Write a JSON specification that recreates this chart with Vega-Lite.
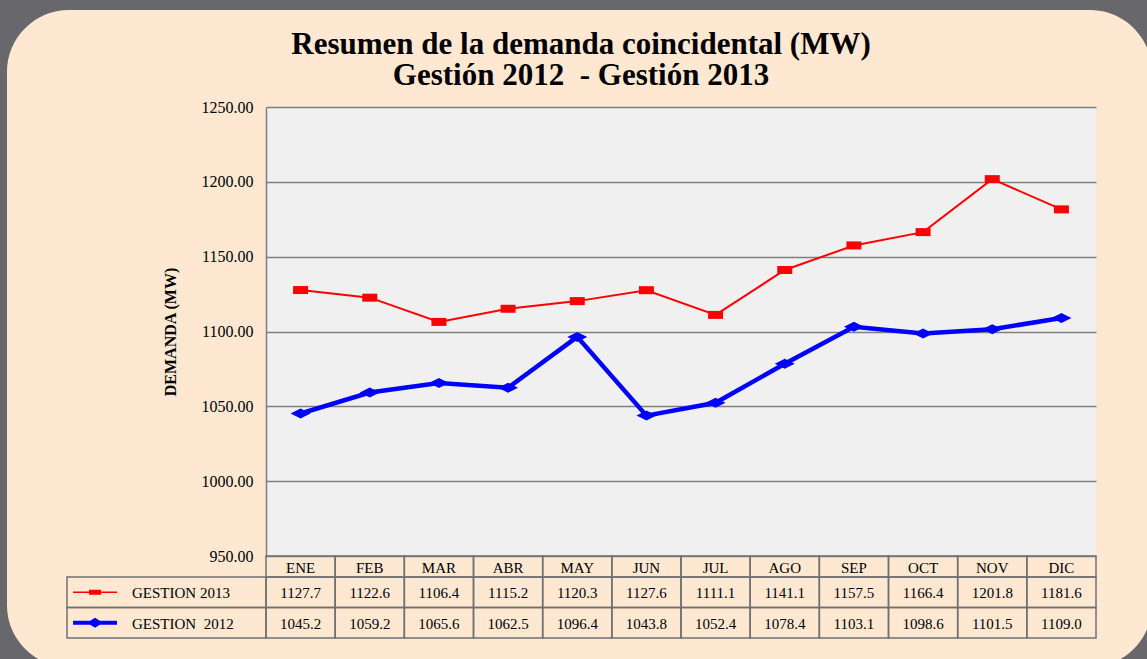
{
  "$schema": "https://vega.github.io/schema/vega-lite/v6.json",
  "width": 830,
  "height": 449,
  "autosize": {"type": "none"},
  "padding": {"left": 266, "top": 107, "right": 51, "bottom": 103},
  "background": "#FEE8D2",
  "title": {
    "text": ["Resumen de la demanda coincidental (MW)", "Gestión 2012\u00a0 - Gestión 2013"],
    "font": "Liberation Serif",
    "fontSize": 31,
    "fontWeight": "bold",
    "color": "#000000",
    "anchor": "middle",
    "frame": "group",
    "baseline": "top",
    "dx": -100,
    "dy": 92,
    "lineHeight": 31,
    "offset": 0
  },
  "config": {
    "view": {"fill": "#F0F0F0", "stroke": null},
    "font": "Liberation Serif"
  },
  "datasets": {
    "demanda": [
      {"mes": "ENE", "anio": 2013, "serie": "GESTION 2013", "valor": 1127.7},
      {"mes": "FEB", "anio": 2013, "serie": "GESTION 2013", "valor": 1122.6},
      {"mes": "MAR", "anio": 2013, "serie": "GESTION 2013", "valor": 1106.4},
      {"mes": "ABR", "anio": 2013, "serie": "GESTION 2013", "valor": 1115.2},
      {"mes": "MAY", "anio": 2013, "serie": "GESTION 2013", "valor": 1120.3},
      {"mes": "JUN", "anio": 2013, "serie": "GESTION 2013", "valor": 1127.6},
      {"mes": "JUL", "anio": 2013, "serie": "GESTION 2013", "valor": 1111.1},
      {"mes": "AGO", "anio": 2013, "serie": "GESTION 2013", "valor": 1141.1},
      {"mes": "SEP", "anio": 2013, "serie": "GESTION 2013", "valor": 1157.5},
      {"mes": "OCT", "anio": 2013, "serie": "GESTION 2013", "valor": 1166.4},
      {"mes": "NOV", "anio": 2013, "serie": "GESTION 2013", "valor": 1201.8},
      {"mes": "DIC", "anio": 2013, "serie": "GESTION 2013", "valor": 1181.6},
      {"mes": "ENE", "anio": 2012, "serie": "GESTION\u00a0 2012", "valor": 1045.2},
      {"mes": "FEB", "anio": 2012, "serie": "GESTION\u00a0 2012", "valor": 1059.2},
      {"mes": "MAR", "anio": 2012, "serie": "GESTION\u00a0 2012", "valor": 1065.6},
      {"mes": "ABR", "anio": 2012, "serie": "GESTION\u00a0 2012", "valor": 1062.5},
      {"mes": "MAY", "anio": 2012, "serie": "GESTION\u00a0 2012", "valor": 1096.4},
      {"mes": "JUN", "anio": 2012, "serie": "GESTION\u00a0 2012", "valor": 1043.8},
      {"mes": "JUL", "anio": 2012, "serie": "GESTION\u00a0 2012", "valor": 1052.4},
      {"mes": "AGO", "anio": 2012, "serie": "GESTION\u00a0 2012", "valor": 1078.4},
      {"mes": "SEP", "anio": 2012, "serie": "GESTION\u00a0 2012", "valor": 1103.1},
      {"mes": "OCT", "anio": 2012, "serie": "GESTION\u00a0 2012", "valor": 1098.6},
      {"mes": "NOV", "anio": 2012, "serie": "GESTION\u00a0 2012", "valor": 1101.5},
      {"mes": "DIC", "anio": 2012, "serie": "GESTION\u00a0 2012", "valor": 1109.0}
    ]
  },
  "data": {"name": "demanda"},
  "resolve": {"scale": {"x": "independent", "y": "independent", "color": "independent", "shape": "independent"}},
  "layer": [
    {
      "transform": [{"filter": "datum.anio === 2013"}],
      "mark": {"type": "line", "color": "#FF0000", "strokeWidth": 2},
      "encoding": {
        "x": {"field": "mes", "type": "ordinal", "sort": null, "scale": {"type": "point", "domain": ["ENE","FEB","MAR","ABR","MAY","JUN","JUL","AGO","SEP","OCT","NOV","DIC"], "range": [0, 830], "padding": 0.5}, "axis": null},
        "y": {"field": "valor", "type": "quantitative", "scale": {"domain": [950, 1250], "range": [449, 0], "nice": false, "zero": false},
          "axis": {"values": [950, 1000, 1050, 1100, 1150, 1200, 1250], "format": ".2f", "ticks": false, "labelPadding": 13, "labelFont": "Liberation Serif", "labelFontSize": 16, "labelColor": "#000000", "domainColor": "#7F7F7F", "domainWidth": 1.5, "gridColor": "#7F7F7F", "gridWidth": 1.5, "title": "DEMANDA (MW)", "titleFont": "Liberation Serif", "titleFontSize": 16, "titleFontWeight": "bold", "titleColor": "#000000", "titlePadding": 23}}
      }
    },
    {
      "transform": [{"filter": "datum.anio === 2012"}],
      "mark": {"type": "line", "color": "#0000FF", "strokeWidth": 4.5},
      "encoding": {
        "x": {"field": "mes", "type": "ordinal", "sort": null, "scale": {"type": "point", "domain": ["ENE","FEB","MAR","ABR","MAY","JUN","JUL","AGO","SEP","OCT","NOV","DIC"], "range": [0, 830], "padding": 0.5}, "axis": null},
        "y": {"field": "valor", "type": "quantitative", "scale": {"domain": [950, 1250], "range": [449, 0], "nice": false, "zero": false}, "axis": null}
      }
    },
    {
      "transform": [{"filter": "datum.anio === 2013"}],
      "mark": {"type": "point", "shape": "M-7.5,-4H7.5V4H-7.5Z", "size": 4, "filled": true, "color": "#FF0000", "opacity": 1, "strokeWidth": 0},
      "encoding": {
        "x": {"field": "mes", "type": "ordinal", "sort": null, "scale": {"type": "point", "domain": ["ENE","FEB","MAR","ABR","MAY","JUN","JUL","AGO","SEP","OCT","NOV","DIC"], "range": [0, 830], "padding": 0.5}, "axis": null},
        "y": {"field": "valor", "type": "quantitative", "scale": {"domain": [950, 1250], "range": [449, 0], "nice": false, "zero": false}, "axis": null}
      }
    },
    {
      "transform": [{"filter": "datum.anio === 2012"}],
      "mark": {"type": "point", "shape": "M-10,0L0,-5L10,0L0,5Z", "size": 4, "filled": true, "color": "#0000FF", "opacity": 1, "strokeWidth": 0},
      "encoding": {
        "x": {"field": "mes", "type": "ordinal", "sort": null, "scale": {"type": "point", "domain": ["ENE","FEB","MAR","ABR","MAY","JUN","JUL","AGO","SEP","OCT","NOV","DIC"], "range": [0, 830], "padding": 0.5}, "axis": null},
        "y": {"field": "valor", "type": "quantitative", "scale": {"domain": [950, 1250], "range": [449, 0], "nice": false, "zero": false}, "axis": null}
      }
    },
    {
      "transform": [{"filter": "datum.anio === 2013"}],
      "mark": {"type": "rect", "fill": "transparent", "stroke": "#707070", "strokeWidth": 1.5},
      "encoding": {
        "x": {"field": "mes", "type": "ordinal", "sort": null, "scale": {"type": "band", "domain": ["ENE","FEB","MAR","ABR","MAY","JUN","JUL","AGO","SEP","OCT","NOV","DIC"], "range": [0, 830], "paddingInner": 0, "paddingOuter": 0}, "axis": null},
        "y": {"datum": "MES", "type": "nominal", "scale": {"type": "band", "domain": ["MES"], "range": [449, 470], "paddingInner": 0, "paddingOuter": 0}, "axis": null}
      }
    },
    {
      "transform": [{"filter": "datum.anio === 2013"}],
      "mark": {"type": "text", "fontSize": 15, "color": "#000000", "baseline": "middle", "dy": 1},
      "encoding": {
        "x": {"field": "mes", "type": "ordinal", "sort": null, "scale": {"type": "band", "domain": ["ENE","FEB","MAR","ABR","MAY","JUN","JUL","AGO","SEP","OCT","NOV","DIC"], "range": [0, 830], "paddingInner": 0, "paddingOuter": 0}, "axis": null},
        "y": {"datum": "MES", "type": "nominal", "scale": {"type": "band", "domain": ["MES"], "range": [449, 470], "paddingInner": 0, "paddingOuter": 0}, "axis": null},
        "text": {"field": "mes", "type": "nominal"}
      }
    },
    {
      "mark": {"type": "rect", "fill": "transparent", "stroke": "#707070", "strokeWidth": 1.5},
      "encoding": {
        "x": {"field": "mes", "type": "ordinal", "sort": null, "scale": {"type": "band", "domain": ["ENE","FEB","MAR","ABR","MAY","JUN","JUL","AGO","SEP","OCT","NOV","DIC"], "range": [0, 830], "paddingInner": 0, "paddingOuter": 0}, "axis": null},
        "y": {"field": "serie", "type": "nominal", "sort": null, "scale": {"type": "band", "domain": ["GESTION 2013", "GESTION\u00a0 2012"], "range": [470, 531], "paddingInner": 0, "paddingOuter": 0}, "axis": null}
      }
    },
    {
      "mark": {"type": "text", "fontSize": 15, "color": "#000000", "baseline": "middle", "dy": 1},
      "encoding": {
        "x": {"field": "mes", "type": "ordinal", "sort": null, "scale": {"type": "band", "domain": ["ENE","FEB","MAR","ABR","MAY","JUN","JUL","AGO","SEP","OCT","NOV","DIC"], "range": [0, 830], "paddingInner": 0, "paddingOuter": 0}, "axis": null},
        "y": {"field": "serie", "type": "nominal", "sort": null, "scale": {"type": "band", "domain": ["GESTION 2013", "GESTION\u00a0 2012"], "range": [470, 531], "paddingInner": 0, "paddingOuter": 0}, "axis": null},
        "text": {"field": "valor", "type": "quantitative", "format": ".1f"}
      }
    },
    {
      "transform": [{"filter": "datum.mes === 'ENE'"}],
      "mark": {"type": "rect", "fill": "transparent", "stroke": "#707070", "strokeWidth": 1.5},
      "encoding": {
        "x": {"datum": "leyenda", "type": "nominal", "scale": {"type": "band", "domain": ["leyenda"], "range": [-199, 0], "paddingInner": 0, "paddingOuter": 0}, "axis": null},
        "y": {"field": "serie", "type": "nominal", "sort": null, "scale": {"type": "band", "domain": ["GESTION 2013", "GESTION\u00a0 2012"], "range": [470, 531], "paddingInner": 0, "paddingOuter": 0}, "axis": null}
      }
    },
    {
      "transform": [{"filter": "datum.mes === 'ENE'"}],
      "mark": {"type": "text", "fontSize": 15, "color": "#000000", "baseline": "middle", "align": "left", "dx": -34.5, "dy": 1},
      "encoding": {
        "x": {"datum": "leyenda", "type": "nominal", "scale": {"type": "band", "domain": ["leyenda"], "range": [-199, 0], "paddingInner": 0, "paddingOuter": 0}, "axis": null},
        "y": {"field": "serie", "type": "nominal", "sort": null, "scale": {"type": "band", "domain": ["GESTION 2013", "GESTION\u00a0 2012"], "range": [470, 531], "paddingInner": 0, "paddingOuter": 0}, "axis": null},
        "text": {"field": "serie", "type": "nominal"}
      }
    },
    {
      "transform": [{"filter": "datum.mes === 'ENE'"}],
      "mark": {"type": "point", "size": 4, "filled": true, "opacity": 1, "strokeWidth": 0},
      "encoding": {
        "x": {"datum": "leyenda", "type": "nominal", "scale": {"type": "band", "domain": ["leyenda"], "range": [-199, 0], "paddingInner": 0, "paddingOuter": 0}, "axis": null},
        "y": {"field": "serie", "type": "nominal", "sort": null, "scale": {"type": "band", "domain": ["GESTION 2013", "GESTION\u00a0 2012"], "range": [470, 531], "paddingInner": 0, "paddingOuter": 0}, "axis": null},
        "shape": {"field": "serie", "type": "nominal", "scale": {"domain": ["GESTION 2013", "GESTION\u00a0 2012"], "range": ["M-93.5,-0.7H-49.5V0.7H-93.5Z M-77.5,-2.5H-65.5V2.5H-77.5Z", "M-93.5,-2H-49.5V2H-93.5Z M-79.5,0L-71.5,-5L-63.5,0L-71.5,5Z"]}, "legend": null},
        "color": {"field": "serie", "type": "nominal", "scale": {"domain": ["GESTION 2013", "GESTION\u00a0 2012"], "range": ["#FF0000", "#0000FF"]}, "legend": null}
      }
    },
    {
      "transform": [{"filter": "datum.mes === 'ENE' && datum.anio === 2013"}],
      "mark": {"type": "point", "size": 4, "filled": true, "opacity": 1, "strokeWidth": 0, "color": "#68676B",
        "shape": "M0,0H1155V675H0Z M7,72V605A62,62 0 0 0 69,667H1090A62,62 0 0 0 1152,605V72A62,62 0 0 0 1090,10H69A62,62 0 0 0 7,72Z"},
      "encoding": {
        "x": {"datum": "marco", "type": "nominal", "scale": {"type": "band", "domain": ["marco"], "range": [-267, -265], "paddingInner": 0, "paddingOuter": 0}, "axis": null},
        "y": {"datum": "marco", "type": "nominal", "scale": {"type": "band", "domain": ["marco"], "range": [-108, -106], "paddingInner": 0, "paddingOuter": 0}, "axis": null}
      }
    }
  ]
}
